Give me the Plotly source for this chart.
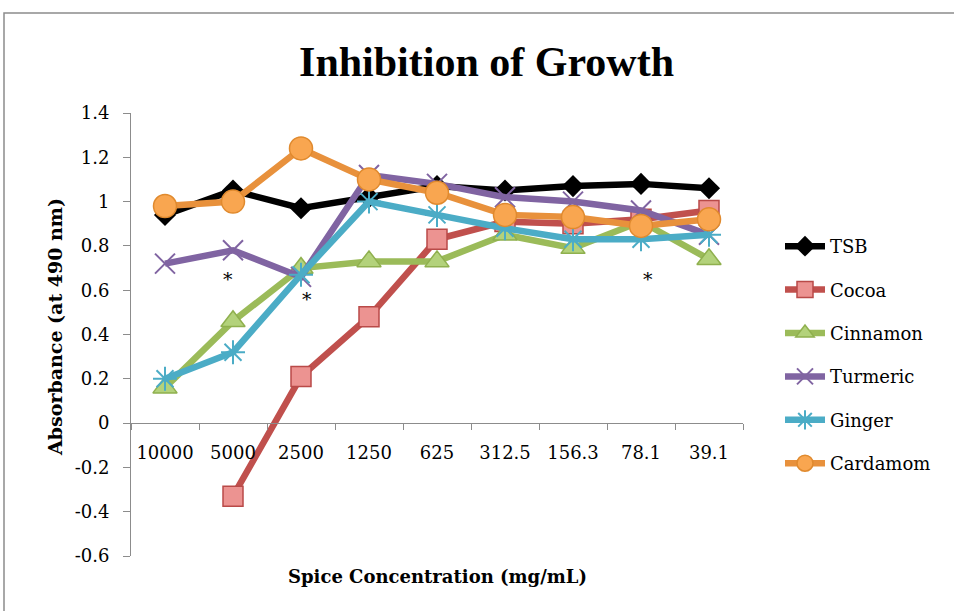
import plotly.graph_objects as go

categories = ["10000", "5000", "2500", "1250", "625", "312.5", "156.3", "78.1", "39.1"]
tsb = [0.94, 1.05, 0.97, 1.02, 1.07, 1.05, 1.07, 1.08, 1.06]
cocoa = [None, -0.33, 0.21, 0.48, 0.83, 0.91, 0.90, 0.92, 0.96]
cinnamon = [0.16, 0.46, 0.70, 0.73, 0.73, 0.85, 0.79, 0.91, 0.74]
turmeric = [0.72, 0.78, 0.66, 1.12, 1.08, 1.02, 1.00, 0.96, 0.85]
ginger = [0.20, 0.32, 0.67, 1.00, 0.94, 0.88, 0.83, 0.83, 0.85]
cardamom = [0.98, 1.00, 1.24, 1.10, 1.04, 0.94, 0.93, 0.89, 0.92]

y_tickvals = [-0.6, -0.4, -0.2, 0, 0.2, 0.4, 0.6, 0.8, 1.0, 1.2, 1.4]
y_ticktext = ["-0.6", "-0.4", "-0.2", "0", "0.2", "0.4", "0.6", "0.8", "1", "1.2", "1.4"]

# significance markers: (category position, value)
star_x = [0.93, 2.09, 7.1]
star_y = [0.65, 0.56, 0.65]

series = [
    ("TSB", tsb, "#000000", dict(symbol="diamond", size=17, color="#000000",
                                  line=dict(width=0))),
    ("Cocoa", cocoa, "#C0504D", dict(symbol="square", size=20, color="#EC9391",
                                      line=dict(width=1.5, color="#B94A48"))),
    ("Cinnamon", cinnamon, "#9BBB59", dict(symbol="triangle-up", size=21, color="#B3D27B",
                                            line=dict(width=1.5, color="#8FB04E"))),
    ("Turmeric", turmeric, "#8064A2", dict(symbol="x-thin-open", size=20, color="#8064A2",
                                            line=dict(width=2, color="#8064A2"))),
    ("Ginger", ginger, "#4BACC6", dict(symbol="asterisk-open", size=20, color="#4BACC6",
                                        line=dict(width=2, color="#4BACC6"))),
    ("Cardamom", cardamom, "#E8913C", dict(symbol="circle", size=23, color="#F9A650",
                                            line=dict(width=1.5, color="#E08A2E"))),
]

fig = go.Figure()
xs = list(range(len(categories)))
for i, (name, vals, col, mk) in enumerate(series):
    fig.add_trace(go.Scatter(
        x=xs, y=vals, name=name, mode="lines+markers",
        line=dict(color=col, width=6.5), marker=mk,
        legendgroup=f"g{i}", connectgaps=False,
    ))

for sx, sy in zip(star_x, star_y):
    fig.add_annotation(x=sx, y=sy, text="*", showarrow=False,
                       font=dict(family="DejaVu Serif", size=19, color="#000"))

L, R, T, B = 131, 211, 113, 55
W, H = 954, 611
pw, ph = W - L - R, H - T - B

def px_x(p):
    return (p - L) / pw

def px_y(p):
    return (H - B - p) / ph

# chart-area frame (left and top edges)
fig.add_shape(type="path", xref="paper", yref="paper",
              path=f"M {px_x(4)} {px_y(H + 5)} L {px_x(4)} {px_y(13)} L {px_x(W + 5)} {px_y(13)}",
              line=dict(color="#8c8c8c", width=1.5))

axis_font = dict(family="DejaVu Serif", size=18, color="#000")

fig.update_layout(
    width=W, height=H,
    margin=dict(l=L, r=R, t=T, b=B, autoexpand=False),
    paper_bgcolor="white", plot_bgcolor="white",
    title=dict(text="<b>Inhibition of Growth</b>", x=0.51, xref="container", xanchor="center",
               y=1 - 61 / H, yref="container", yanchor="middle",
               font=dict(family="Liberation Serif", size=42, color="#000")),
    xaxis=dict(
        range=[-0.5, 8.5], tickvals=xs, ticktext=categories,
        anchor="free", position=0.3, showgrid=False, zeroline=False,
        showline=True, linecolor="#8c8c8c", linewidth=1, automargin=False,
        ticks="outside", ticklen=13, tickcolor="rgba(0,0,0,0)",
        minor=dict(tick0=-0.5, dtick=1, ticks="outside", ticklen=6, tickcolor="#8c8c8c",
                   showgrid=False),
        tickfont=axis_font,
    ),
    yaxis=dict(
        range=[-0.6, 1.4], tickvals=y_tickvals, ticktext=y_ticktext,
        showgrid=False, zeroline=False, showline=True, linecolor="#8c8c8c", linewidth=1,
        ticks="outside", ticklen=7, tickcolor="#8c8c8c", automargin=False,
        ticklabelstandoff=10,
        tickfont=axis_font,
    ),
    legend=dict(x=px_x(780), y=px_y(228), xanchor="left", yanchor="top",
                traceorder="grouped", tracegroupgap=17,
                font=dict(family="DejaVu Serif", size=18, color="#000"),
                bgcolor="rgba(0,0,0,0)", itemwidth=40),
    showlegend=True,
)

fig.add_annotation(text="<b>Absorbance (at 490 nm)</b>", xref="paper", yref="paper",
                   x=px_x(55), y=px_y(327), showarrow=False, textangle=-90,
                   xanchor="center", yanchor="middle",
                   font=dict(family="DejaVu Serif", size=19, color="#000"))

fig.add_annotation(text="<b>Spice Concentration (mg/mL)</b>", xref="paper", yref="paper",
                   x=px_x(437), y=px_y(576), showarrow=False, xanchor="center", yanchor="middle",
                   font=dict(family="DejaVu Serif", size=18, color="#000"))

fig.write_html("out.html", config={"displayModeBar": False},
               post_script="document.body.style.margin='0';")
